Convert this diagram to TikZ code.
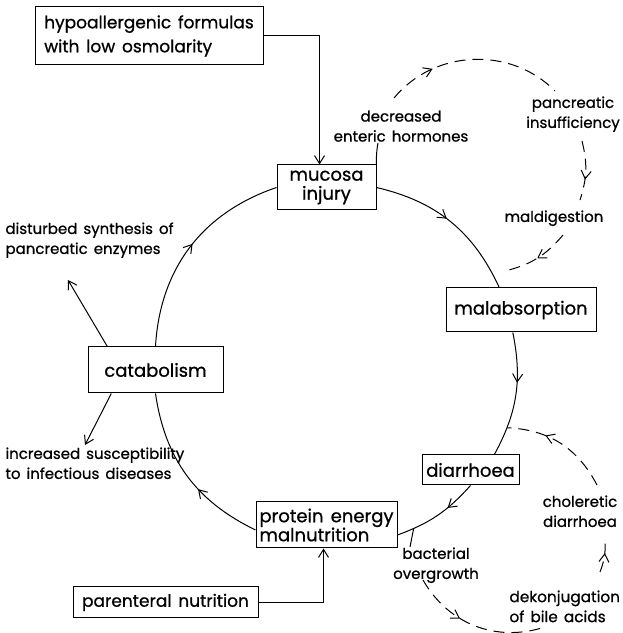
\documentclass[tikz,border=0pt]{standalone}
\usepackage{fontspec}
\setmainfont{Poppins}[FakeBold=0.8,WordSpace=1.5]
\usetikzlibrary{arrows.meta,decorations.markings}

\begin{document}
\begin{tikzpicture}[x=1pt,y=1pt,line width=1pt,>={Straight Barb[length=8pt,width=10pt]},
        box/.style = {draw, inner sep=3pt, font=\fontsize{18}{19}\selectfont},
        lbl/.style = {inner sep=0pt, font=\fontsize{15}{20}\selectfont, align=center},
        broken/.style = {dash pattern=on 11pt off 7pt},
        midarr/.style = {postaction={decorate}, decoration={markings, mark=at position #1 with {\arrow{>}}}}]
        \useasboundingbox (0,0) rectangle (623,633);
        \node[box, align=left, minimum width=228pt, minimum height=58pt, font=\fontsize{17}{24}\selectfont] (hypo) at (149,597) {hypoallergenic formulas\\with low osmolarity};
        \node[box, align=center, minimum width=99pt, minimum height=45pt] (mucosa) at (326.5,445.5) {mucosa\\injury};
        \node[box, minimum width=150pt, minimum height=44pt] (malabs) at (521,323) {malabsorption};
        \node[box, minimum width=135pt, minimum height=46pt] (catab) at (155.5,263) {catabolism};
        \node[box, minimum width=97pt, minimum height=30pt] (diarr) at (470.5,163) {diarrhoea};
        \node[box, align=left, minimum width=141pt, minimum height=46pt] (protein) at (326.5,108) {protein energy\\malnutrition};
        \node[box, minimum width=185pt, minimum height=31pt, font=\fontsize{17}{18}\selectfont] (parent) at (165.5,30.5) {parenteral nutrition};
        \node[lbl, anchor=north west, align=left] (dist) at (5,411) {disturbed synthesis of\\pancreatic enzymes};
        \node[lbl, anchor=north west, align=left] (infect) at (5,186) {increased susceptibility\\to infectious diseases};
        \node[lbl, anchor=north] (hormon) at (401,523) {decreased\\enteric hormones};
        \node[lbl, anchor=north] (pancr) at (573,537) {pancreatic\\insufficiency};
        \node[lbl, anchor=north] (maldig) at (554,423) {maldigestion};
        \node[lbl, anchor=north] (bacter) at (436,86) {bacterial\\overgrowth};
        \node[lbl, anchor=north] (cholr) at (580,138) {choleretic\\diarrhoea};
        \node[lbl, anchor=north west, align=left, font=\fontsize{15.3}{20}\selectfont] (bile) at (509,43) {dekonjugation\\of bile acids};
        \coordinate (distend) at (68,353);
        \coordinate (infend) at (85,188);
        \coordinate (malend) at (505,362);
        \draw[->] (hypo.east) -| ([xshift=-7pt]mucosa.north);
        \draw[->] (parent.east) -| ([xshift=-3pt]protein.south);
        \draw[midarr=0.47] (mucosa.east) to[bend left=26] (malabs.134);
        \draw[midarr=0.4] (malabs.250) to[bend left=20] coordinate[pos=0.78] (diatick) (diarr.33);
        \draw[midarr=0.36] (diarr.south) to[bend left=14] coordinate[pos=0.82] (bactick) (protein.-8);
        \draw[midarr=0.4] (protein.184) to[bend left=28] (catab.south);
        \draw[midarr=0.52] (catab.north) to[bend left=34] (mucosa.west);
        \draw[->] (catab.154) -- (distend);
        \draw[->] (catab.208) -- (infend);
        \draw (mucosa.north east) to[bend left=6] ([xshift=-23pt,yshift=-33pt]hormon.north);
        \draw[broken, midarr=0.27] ([xshift=-7pt,yshift=12pt]hormon.north) to[bend left=48] ([xshift=-18pt,yshift=5pt]pancr.north);
        \draw[broken, midarr=0.65] ([xshift=9pt,yshift=-45pt]pancr.north) to[bend left=16] ([xshift=26pt,yshift=10pt]maldig.north);
        \draw[broken, midarr=0.5] ([xshift=9pt,yshift=-25pt]maldig.north) to[bend left=18] (malend);
        \draw (bactick) -- ([xshift=-26pt]bacter.north);
        \draw[broken, midarr=0.38] ([xshift=-13pt,yshift=-33pt]bacter.north) to[bend right=39] ([xshift=36pt,yshift=-37pt]bile.north west);
        \draw[broken, midarr=0.6] ([xshift=91pt,yshift=18pt]bile.north west) to[bend right=12] ([xshift=25pt,yshift=-45pt]cholr.north);
        \draw[broken, midarr=0.65] ([xshift=17pt,yshift=10pt]cholr.north) to[bend right=30] (diatick);
        \end{tikzpicture}
\end{document}
